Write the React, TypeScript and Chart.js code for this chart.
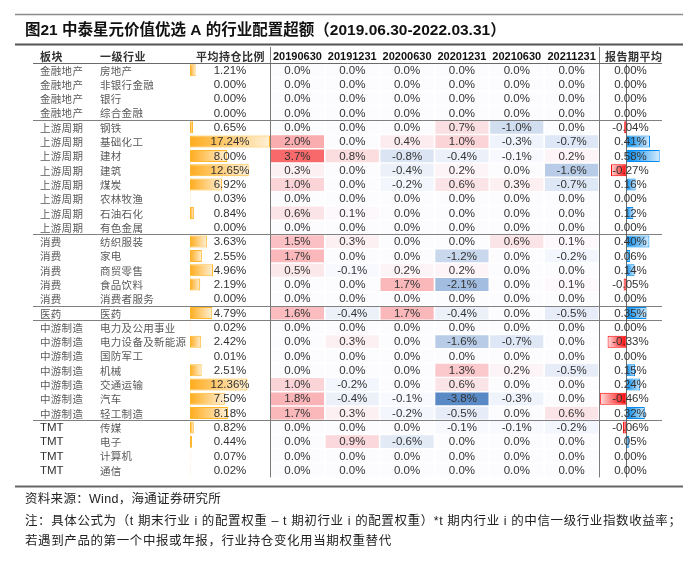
import React, { useEffect, useRef } from 'react';
import { Chart, registerables } from 'chart.js';

Chart.register(...registerables);

const titleText = '图21 中泰星元价值优选 A 的行业配置超额（2019.06.30-2022.03.31）';
const headerSector = '板块';
const headerIndustry = '一级行业';
const headerAvg = '平均持仓比例';
const headerPeriodAvg = '报告期平均';
const footerLines = [
  '资料来源：Wind，海通证券研究所',
  '注：具体公式为（t 期末行业 i 的配置权重 – t 期初行业 i 的配置权重）*t 期内行业 i 的中信一级行业指数收益率；',
  '若遇到产品的第一个中报或年报，行业持仓变化用当期权重替代',
];

const sectors = [
  '金融地产', '金融地产', '金融地产', '金融地产',
  '上游周期', '上游周期', '上游周期', '上游周期', '上游周期', '上游周期', '上游周期', '上游周期',
  '消费', '消费', '消费', '消费', '消费',
  '医药',
  '中游制造', '中游制造', '中游制造', '中游制造', '中游制造', '中游制造', '中游制造',
  'TMT', 'TMT', 'TMT', 'TMT',
];
const industries = [
  '房地产', '非银行金融', '银行', '综合金融',
  '钢铁', '基础化工', '建材', '建筑', '煤炭', '农林牧渔', '石油石化', '有色金属',
  '纺织服装', '家电', '商贸零售', '食品饮料', '消费者服务',
  '医药',
  '电力及公用事业', '电力设备及新能源', '国防军工', '机械', '交通运输', '汽车', '轻工制造',
  '传媒', '电子', '计算机', '通信',
];
const avgHolding = [
  1.21, 0.0, 0.0, 0.0,
  0.65, 17.24, 8.0, 12.65, 6.92, 0.03, 0.84, 0.0,
  3.63, 2.55, 4.96, 2.19, 0.0,
  4.79,
  0.02, 2.42, 0.01, 2.51, 12.36, 7.5, 8.18,
  0.82, 0.44, 0.07, 0.02,
];
const periodLabels = ['20190630', '20191231', '20200630', '20201231', '20210630', '20211231'];
const p20190630 = [0, 0, 0, 0, 0, 2.0, 3.7, 0.3, 1.0, 0, 0.6, 0, 1.5, 1.7, 0.5, 0, 0, 1.6, 0, 0, 0, 0, 1.0, 1.8, 1.7, 0, 0, 0, 0];
const p20191231 = [0, 0, 0, 0, 0, 0, 0.8, 0, 0, 0, 0.1, 0, 0.3, 0, -0.1, 0, 0, -0.4, 0, 0.3, 0, 0, -0.2, -0.4, 0.3, 0, 0.9, 0, 0];
const p20200630 = [0, 0, 0, 0, 0, 0.4, -0.8, -0.4, -0.2, 0, 0, 0, 0, 0, 0.2, 1.7, 0, 1.7, 0, 0, 0, 0, 0, -0.1, -0.2, 0, -0.6, 0, 0];
const p20201231 = [0, 0, 0, 0, 0.7, 1.0, -0.4, 0.2, 0.6, 0, 0, 0, 0, -1.2, 0.2, -2.1, 0, -0.4, 0, -1.6, 0, 1.3, 0.6, -3.8, -0.5, -0.1, 0, 0, 0];
const p20210630 = [0, 0, 0, 0, -1.0, -0.3, -0.1, 0, 0.3, 0, 0, 0, 0.6, 0, 0, 0, 0, 0, 0, -0.7, 0, 0.2, 0, -0.3, 0, -0.1, 0, 0, 0];
const p20211231 = [0, 0, 0, 0, 0, -0.7, 0.2, -1.6, -0.7, 0, 0, 0, 0.1, -0.2, 0, 0.1, 0, -0.5, 0, 0, 0, -0.5, 0, 0, 0.6, -0.2, 0, 0, 0];
const periodAvg = [
  0, 0, 0, 0,
  -0.04, 0.41, 0.58, -0.27, 0.16, 0, 0.12, 0,
  0.4, 0.06, 0.14, -0.05, 0,
  0.35,
  0, -0.33, 0, 0.15, 0.24, -0.46, 0.32,
  -0.06, 0.05, 0, 0,
];

const periodSeries = [p20190630, p20191231, p20200630, p20201231, p20210630, p20211231];

// ---------- styles ----------
const LATIN = "'Liberation Sans', Arial";
const CJK = "'Noto Sans CJK SC'";
const heatMid = [252, 252, 255];
const heatHigh = [248, 105, 107];
const heatLow = [90, 138, 198];
const allHeat = periodSeries.flat();
const heatMax = Math.max(...allHeat);
const heatMin = Math.min(...allHeat);

function heatColor(v: number): string {
  const t = v >= 0 ? (heatMax ? v / heatMax : 0) : v / heatMin;
  const end = v >= 0 ? heatHigh : heatLow;
  const c = heatMid.map((m, k) => Math.round(m + (end[k] - m) * t));
  return `rgb(${c[0]},${c[1]},${c[2]})`;
}

function gradientFill(ctx: any, scaleId: string, pos: string, posEnd: string, neg: string, negEnd: string) {
  const chart = ctx.chart;
  const sc = chart.scales[scaleId];
  const v = ctx.raw as number;
  const solid = v < 0 ? neg : pos;
  if (!sc || typeof v !== 'number') return solid;
  const x0 = sc.getPixelForValue(0);
  const x1 = sc.getPixelForValue(v);
  if (!Number.isFinite(x0) || !Number.isFinite(x1) || Math.abs(x1 - x0) < 1) return solid;
  const g = chart.ctx.createLinearGradient(x0, 0, x1, 0);
  g.addColorStop(0, solid);
  g.addColorStop(1, v < 0 ? negEnd : posEnd);
  return g;
}

function hline(ctx: CanvasRenderingContext2D, x0: number, x1: number, y: number, color: string, w: number) {
  ctx.save();
  ctx.strokeStyle = color;
  ctx.lineWidth = w;
  ctx.beginPath();
  ctx.moveTo(x0, y);
  ctx.lineTo(x1, y);
  ctx.stroke();
  ctx.restore();
}
function vline(ctx: CanvasRenderingContext2D, x: number, y0: number, y1: number, color: string, w: number) {
  ctx.save();
  ctx.strokeStyle = color;
  ctx.lineWidth = w;
  ctx.beginPath();
  ctx.moveTo(x, y0);
  ctx.lineTo(x, y1);
  ctx.stroke();
  ctx.restore();
}
function text(ctx: CanvasRenderingContext2D, s: string, x: number, y: number, font: string, color: string, align: CanvasTextAlign, spacing = 0) {
  ctx.save();
  ctx.font = font;
  ctx.fillStyle = color;
  ctx.textAlign = align;
  ctx.textBaseline = 'middle';
  (ctx as any).letterSpacing = spacing + 'px';
  ctx.fillText(s, x, y);
  ctx.restore();
}

const tablePlugin = {
  id: 'tableDecor',
  beforeDraw(chart: any) {
    const ctx = chart.ctx as CanvasRenderingContext2D;
    ctx.save();
    ctx.fillStyle = '#ffffff';
    ctx.fillRect(0, 0, chart.width, chart.height);
    ctx.restore();
  },
  afterDatasetsDraw(chart: any) {
    const ctx = chart.ctx as CanvasRenderingContext2D;
    const { y, xSector, xIndustry, xAvg, xHeat, xPer } = chart.scales;
    const n = industries.length;
    const rowH = y.getPixelForValue(1) - y.getPixelForValue(0);
    const top = Math.round(y.getPixelForValue(0) - rowH / 2) + 0.5;
    const bottom = y.getPixelForValue(n - 1) + rowH / 2;
    const L = Math.min(xSector.left, xPer.left);
    const R = Math.max(xPer.right, xSector.right);
    const pageL = 15;
    const pageR = 683;

    // title block
    hline(ctx, pageL, pageR, 14.5, '#8c8c8c', 1.5);
    text(ctx, titleText, 25, 31, `bold 15.5px ${LATIN}, ${CJK}`, '#111', 'left');
    hline(ctx, pageL, pageR, 44.5, '#555', 2);

    // vertical separators
    vline(ctx, Math.round(xAvg.right) + 0.5, 47, bottom, '#7a7a7a', 1);
    vline(ctx, Math.round(xHeat.right) + 0.5, 47, bottom, '#7a7a7a', 1);

    // header
    const hy = top - 7;
    const hFontC = `bold 11px ${CJK}`;
    const hFontL = `bold 11px ${LATIN}`;
    text(ctx, headerSector, xSector.left + 7, hy, hFontC, '#333', 'left', 0.5);
    text(ctx, headerIndustry, xIndustry.left + 5, hy, hFontC, '#333', 'left', 0.5);
    text(ctx, headerAvg, xAvg.right - 5, hy, hFontC, '#333', 'right', 0.5);
    periodLabels.forEach((lab, c) => {
      text(ctx, lab, xHeat.getPixelForValue(c), hy, hFontL, '#111', 'center');
    });
    text(ctx, headerPeriodAvg, xPer.left + 6, hy, hFontC, '#333', 'left', 0.5);
    hline(ctx, L, R, top, '#6a6a6a', 1);

    // group separators
    for (let i = 1; i < n; i++) {
      if (sectors[i] !== sectors[i - 1]) {
        const yy = Math.round(y.getPixelForValue(i) - rowH / 2) + 0.5;
        hline(ctx, L, R, yy, '#808080', 1.2);
      }
    }

    // zero axis of the period-average data bars
    const ax = Math.round(xPer.getPixelForValue(0)) + 0.5;
    vline(ctx, ax, top + 1, bottom, 'rgba(60,60,60,0.75)', 1);

    // cell texts
    const cFont = `10.5px ${CJK}`;
    const vFont = `11.5px ${LATIN}`;
    for (let i = 0; i < n; i++) {
      const cy = y.getPixelForValue(i) + 0.5;
      const isLatin = sectors[i] === 'TMT';
      text(ctx, sectors[i], xSector.left + 7, cy, isLatin ? `11.5px ${LATIN}` : cFont, isLatin ? '#333' : '#5a5a5a', 'left', isLatin ? 0 : 0.3);
      text(ctx, industries[i], xIndustry.left + 5, cy, cFont, '#5a5a5a', 'left', 0.3);
      text(ctx, avgHolding[i].toFixed(2) + '%', (xAvg.left + xAvg.right) / 2, cy, vFont, '#333', 'center');
      periodSeries.forEach((s, c) => {
        text(ctx, s[i].toFixed(1) + '%', xHeat.getPixelForValue(c), cy, vFont, '#333', 'center');
      });
      text(ctx, periodAvg[i].toFixed(2) + '%', (xPer.left + xPer.right) / 2, cy, vFont, '#333', 'center');
    }

    // bottom rule and notes
    hline(ctx, pageL, pageR, Math.round(bottom) + 9.5, '#666', 2);
    const fFont = `12.5px ${LATIN}, ${CJK}`;
    text(ctx, footerLines[0], 25, bottom + 22, fFont, '#222', 'left', 0.3);
    text(ctx, footerLines[1], 25, bottom + 44, fFont, '#222', 'left', 0.6);
    text(ctx, footerLines[2], 25, bottom + 64, fFont, '#222', 'left', 0.6);
  },
};

const rowIdx = industries.map((_, i) => i);

const heatDatasets = periodSeries.map((s, c) => ({
  label: periodLabels[c],
  xAxisID: 'xHeat',
  data: rowIdx.map(() => [c - 0.485, c + 0.485]),
  backgroundColor: s.map((v) => heatColor(v)),
  borderWidth: 0,
  barPercentage: 0.9,
  categoryPercentage: 1,
  grouped: false,
}));

const config: any = {
  type: 'bar',
  data: {
    labels: industries,
    datasets: [
      {
        label: headerAvg,
        xAxisID: 'xAvg',
        data: avgHolding,
        backgroundColor: (ctx: any) => gradientFill(ctx, 'xAvg', 'rgb(255,172,30)', 'rgb(255,240,214)', 'rgb(255,172,30)', 'rgb(255,240,214)'),
        borderColor: 'rgb(255,182,40)',
        borderWidth: (ctx: any) => (typeof ctx.raw === 'number' && Math.abs(ctx.raw) >= 0.05 ? 1 : 0),
        borderSkipped: false,
        barPercentage: 0.84,
        categoryPercentage: 1,
        grouped: false,
      },
      ...heatDatasets,
      {
        label: headerPeriodAvg,
        xAxisID: 'xPer',
        data: periodAvg,
        backgroundColor: (ctx: any) => gradientFill(ctx, 'xPer', 'rgb(0,138,239)', 'rgb(214,236,253)', 'rgb(255,0,0)', 'rgb(255,222,222)'),
        borderColor: (ctx: any) => (typeof ctx.raw === 'number' && ctx.raw < 0 ? 'rgb(255,0,0)' : 'rgb(0,138,239)'),
        borderWidth: (ctx: any) => (typeof ctx.raw === 'number' && Math.abs(ctx.raw) >= 0.005 ? 1 : 0),
        borderSkipped: false,
        barPercentage: 0.84,
        categoryPercentage: 1,
        grouped: false,
      },
    ],
  },
  options: {
    indexAxis: 'y',
    animation: false,
    responsive: false,
    maintainAspectRatio: false,
    devicePixelRatio: 1,
    events: [],
    layout: { padding: { left: 33, right: 38, top: 63, bottom: 86.6 } },
    plugins: { legend: { display: false }, tooltip: { enabled: false }, title: { display: false } },
    scales: {
      y: { type: 'category', display: false, offset: true, grid: { display: false } },
      xSector: { axis: 'x', type: 'linear', position: 'top', stack: 'cols', stackWeight: 62, weight: 5, display: false, min: 0, max: 1 },
      xIndustry: { axis: 'x', type: 'linear', position: 'top', stack: 'cols', stackWeight: 95, weight: 4, display: false, min: 0, max: 1 },
      xAvg: { axis: 'x', type: 'linear', position: 'top', stack: 'cols', stackWeight: 80, weight: 3, display: false, min: 0, max: Math.max(...avgHolding) },
      xHeat: { axis: 'x', type: 'linear', position: 'top', stack: 'cols', stackWeight: 329, weight: 2, display: false, min: -0.5, max: periodLabels.length - 0.5 },
      xPer: { axis: 'x', type: 'linear', position: 'top', stack: 'cols', stackWeight: 63, weight: 1, display: false, min: -0.48, max: 0.62 },
    },
  },
  plugins: [tablePlugin],
};

export default function App() {
  const ref = useRef<HTMLCanvasElement>(null);
  useEffect(() => {
    if (!ref.current) return;
    const chart = new Chart(ref.current, config);
    return () => chart.destroy();
  }, []);
  return (
    <div style={{ position: 'fixed', left: 0, top: 0, width: 700, height: 564, background: '#fff' }}>
      <canvas ref={ref} width={700} height={564} style={{ display: 'block', width: 700, height: 564 }} />
    </div>
  );
}
